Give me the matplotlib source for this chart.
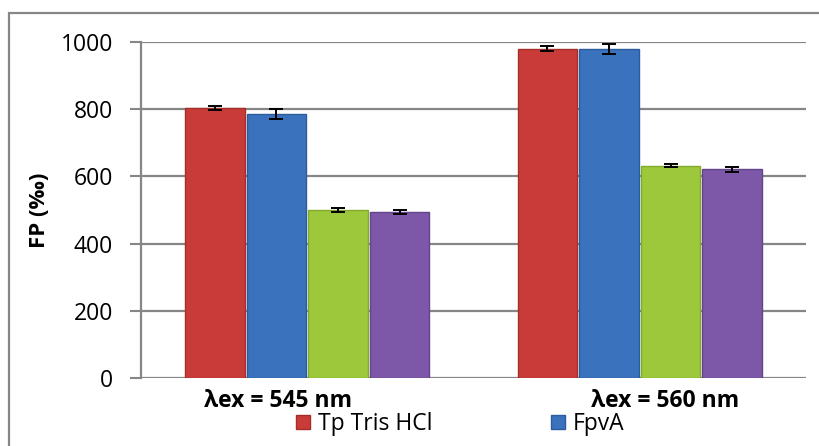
import matplotlib
matplotlib.use("Agg")
import matplotlib.pyplot as plt
from matplotlib.patches import Rectangle
from matplotlib import transforms
import numpy as np

plt.rcParams['font.family'] = ['Open Sans', 'DejaVu Sans']

categories = ["λex = 545 nm", "λex = 560 nm"]
series_names = ["Tp Tris HCl", "FpvA", None, None]
values = [
    [803, 980],   # red
    [787, 978],   # blue
    [500, 632],   # green
    [495, 621],   # purple
]
errors = [
    [6, 7],
    [15, 15],
    [5, 4],
    [6, 7],
]
y_ticks = [0, 200, 400, 600, 800, 1000]

colors = ["#C93B38", "#3A72BE", "#9DC83C", "#7D57A8"]
edges = ["#A52D2A", "#2D5C9C", "#82AA2C", "#64448A"]

W, H = 820, 446
fig = plt.figure(figsize=(W / 100, H / 100), dpi=100)
ax = fig.add_axes([141 / W, 1 - 378 / H, (806 - 141) / W, (378 - 42) / H])

# outer chart border (left & top visible)
fig.patches.append(Rectangle((9 / W, -0.2), 1.2, 1 - 13 / H + 0.2,
                             transform=fig.transFigure, fill=False,
                             edgecolor="#868686", lw=1.6, zorder=0))

x = np.arange(len(categories))
bw = 0.185
offs = (np.arange(4) - 1.5) * bw
for i in range(4):
    lbl = series_names[i] if series_names[i] else "_nolegend_"
    ax.bar(x + offs[i], values[i], width=bw - 0.006, color=colors[i],
           edgecolor=edges[i], linewidth=1.0, label=lbl, zorder=3)
    ax.errorbar(x + offs[i], values[i], yerr=errors[i], fmt="none",
                ecolor="black", elinewidth=1.4, capsize=5, capthick=1.4,
                zorder=4)

ax.set_xlim(-0.5, 1.5)
ax.set_ylim(0, 1000)
ax.set_yticks(y_ticks)
ax.set_yticklabels([str(t) for t in y_ticks], fontsize=16.5)
ax.tick_params(axis="y", length=8, width=1.5, color="#868686", pad=12)
ax.tick_params(axis="x", length=0)
for t in y_ticks:
    ax.axhline(t, color="#868686", lw=1.6, zorder=1)
for s in ["top", "right", "bottom"]:
    ax.spines[s].set_visible(False)
ax.spines["left"].set_color("#868686")
ax.spines["left"].set_linewidth(1.6)

ax.set_xticks(x)
ax.set_xticklabels(categories, fontsize=16.5, fontweight="bold")
ax.tick_params(axis="x", pad=8)
shifts = [-29, 25]
for lab, dx in zip(ax.get_xticklabels(), shifts):
    lab.set_transform(lab.get_transform() +
                      transforms.ScaledTranslation(dx / 100, 0, fig.dpi_scale_trans))

ax.set_ylabel("FP (‰)", fontsize=16, fontweight="bold", labelpad=8)

leg = fig.legend(loc="center left", bbox_to_anchor=(296 / W, 1 - 424 / H),
                 ncol=2, frameon=False, fontsize=16.5, handlelength=0.6,
                 handleheight=0.6, handletextpad=0.35, columnspacing=5.2,
                 borderpad=0, borderaxespad=0)

fig.savefig("out.png", dpi=100)
